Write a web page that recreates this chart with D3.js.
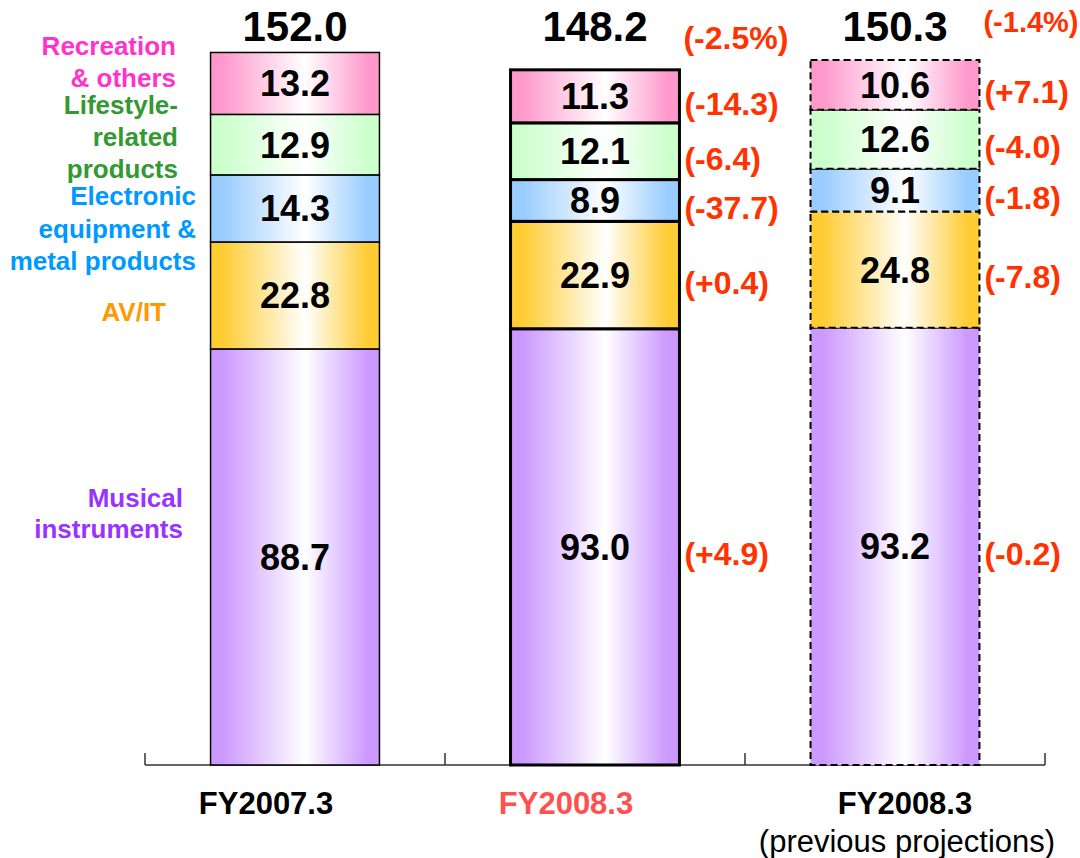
<!DOCTYPE html>
<meta charset="utf-8">
<title>Sales by segment</title>
<style>
body { margin: 0; background: #fff; }
svg { display: block; font-family: "Liberation Sans", Arial, Helvetica, sans-serif; }
.val { font-size: 36px; font-weight: bold; fill: #000; }
.tot { font-size: 42px; font-weight: bold; fill: #000; }
.chg { font-size: 32px; font-weight: bold; fill: #ff3300; }
.leg { font-size: 26px; font-weight: bold; }
.cat { font-size: 31px; font-weight: bold; }
.sub { font-size: 31px; }
</style>
<body>
<script src="https://cdn.jsdelivr.net/npm/d3@7"></script>
<script>
'use strict';

// ---- data ----
const categories = ["FY2007.3", "FY2008.3", "FY2008.3"];
const subLabels = ["", "", "(previous projections)"];
const segments = ["Musical instruments", "AV/IT", "Electronic equipment & metal products",
                  "Lifestyle-related products", "Recreation & others"];
const musical   = [88.7, 93.0, 93.2];
const avit      = [22.8, 22.9, 24.8];
const electronic= [14.3, 8.9, 9.1];
const lifestyle = [12.9, 12.1, 12.6];
const recreation= [13.2, 11.3, 10.6];
const totals    = [152.0, 148.2, 150.3];
// % changes shown beside bars 2 and 3 (bottom segment first)
const changeActual   = ["(+4.9)", "(+0.4)", "(-37.7)", "(-6.4)", "(-14.3)"];
const changeProjected= ["(-0.2)", "(-7.8)", "(-1.8)", "(-4.0)", "(+7.1)"];
const totalChanges   = [null, "(-2.5%)", "(-1.4%)"];

const series = [musical, avit, electronic, lifestyle, recreation];
const segColors = ["#cc99ff", "#ffcc33", "#99ccff", "#ccffcc", "#ff99cc"];
const labelColors = ["#9933ff", "#ff9900", "#0099ff", "#339933", "#ff33cc"];

const width = 1080, height = 858;
const svg = d3.select("body").append("svg").attr("width", width).attr("height", height);

const x = d3.scaleBand().domain(d3.range(3)).range([145, 1045]);
const barW = x.bandwidth() * 0.563;
const y = d3.scaleLinear().domain([0, 152]).range([765, 52]);

// gradients, one per segment colour
const defs = svg.append("defs");
segColors.forEach(function(c, i) {
  const g = defs.append("linearGradient").attr("id", "g" + i)
    .attr("x1", "0%").attr("x2", "100%").attr("y1", "0%").attr("y2", "0%");
  g.append("stop").attr("offset", "0%").attr("stop-color", c);
  g.append("stop").attr("offset", "7%").attr("stop-color", c);
  g.append("stop").attr("offset", "56%").attr("stop-color", "#ffffff");
  g.append("stop").attr("offset", "93%").attr("stop-color", c);
  g.append("stop").attr("offset", "100%").attr("stop-color", c);
});

// stack rows
const rows = d3.range(3).map(function(j) {
  const r = {};
  segments.forEach(function(s, i) { r[s] = series[i][j]; });
  return r;
});
const stacked = d3.stack().keys(segments)(rows);

const strokeW = [1.5, 3, 2];
const dash = [null, null, "7,4"];

// axis
svg.append("line").attr("x1", 145).attr("x2", 1045).attr("y1", y(0)).attr("y2", y(0))
  .attr("stroke", "#333").attr("stroke-width", 1.5);
[145, 445, 745, 1045].forEach(function(t) {
  svg.append("line").attr("x1", t).attr("x2", t).attr("y1", y(0) - 12).attr("y2", y(0))
    .attr("stroke", "#333").attr("stroke-width", 1.5);
});

stacked.forEach(function(layer, i) {
  const g = svg.append("g");
  g.selectAll("rect").data(layer).enter().append("rect")
    .attr("x", (d, j) => x(j) + (x.bandwidth() - barW) / 2)
    .attr("y", (d) => y(d[1]))
    .attr("width", barW)
    .attr("height", (d) => y(d[0]) - y(d[1]))
    .attr("fill", "url(#g" + i + ")")
    .attr("stroke", "#000")
    .attr("stroke-width", (d, j) => strokeW[j])
    .attr("stroke-dasharray", (d, j) => dash[j]);

  g.selectAll("text.val").data(layer).enter().append("text")
    .attr("class", "val")
    .attr("x", (d, j) => x(j) + x.bandwidth() / 2)
    .attr("y", (d) => (y(d[0]) + y(d[1])) / 2)
    .attr("dy", "0.36em")
    .attr("text-anchor", "middle")
    .text((d, j) => series[i][j].toFixed(1));
});

// change labels
[changeActual, changeProjected].forEach(function(arr, k) {
  const j = k + 1;
  svg.selectAll(null).data(arr).enter().append("text")
    .attr("class", "chg")
    .attr("x", x(j) + (x.bandwidth() + barW) / 2 + 5)
    .attr("y", (d, i) => (y(stacked[i][j][0]) + y(stacked[i][j][1])) / 2 + 7)
    .attr("dy", "0.36em")
    .text((d) => d);
});

// totals, on one row above the bars
const totalRow = 26;
svg.selectAll("text.tot").data(totals).enter().append("text")
  .attr("class", "tot")
  .attr("x", (d, j) => x(j) + x.bandwidth() / 2)
  .attr("y", totalRow)
  .attr("dy", "0.36em")
  .attr("text-anchor", "middle")
  .text((d) => d.toFixed(1));
totalChanges.forEach(function(t, j) {
  if (!t) return;
  svg.append("text").attr("class", "chg")
    .attr("x", x(j) + (x.bandwidth() + barW) / 2 + (j === 1 ? 4 : 4))
    .attr("y", totalRow + (j === 1 ? 11 : -4))
    .attr("dy", "0.36em")
    .style("font-size", j === 2 ? "29px" : null)
    .text(t);
});

// category labels
const catShift = [-29, -29, 10];
svg.selectAll("text.cat").data(categories).enter().append("text")
  .attr("class", "cat")
  .attr("x", (d, j) => x(j) + x.bandwidth() / 2 + catShift[j])
  .attr("y", 803).attr("dy", "0.36em")
  .attr("text-anchor", "middle")
  .attr("fill", (d, j) => j === 1 ? "#ff5050" : "#000")
  .text((d) => d);
svg.selectAll("text.sub").data(subLabels).enter().append("text")
  .attr("class", "sub")
  .attr("x", (d, j) => x(j) + x.bandwidth() / 2 + 12)
  .attr("y", 841).attr("dy", "0.36em")
  .attr("text-anchor", "middle")
  .text((d) => d);

// segment legend on the left
const legendLines = [
  {seg: 4, x: 176, lines: [["Recreation", 46], ["& others", 78]]},
  {seg: 3, x: 178, lines: [["Lifestyle-", 105], ["related", 137], ["products", 169]]},
  {seg: 2, x: 196, lines: [["Electronic", 196], ["equipment &", 229], ["metal products", 261]]},
  {seg: 1, x: 166, lines: [["AV/IT", 312]]},
  {seg: 0, x: 183, lines: [["Musical", 498], ["instruments", 529]]}
];
legendLines.forEach(function(l) {
  l.lines.forEach(function(ln) {
    svg.append("text").attr("class", "leg")
      .attr("x", l.x).attr("y", ln[1]).attr("dy", "0.36em")
      .attr("text-anchor", "end")
      .attr("fill", labelColors[l.seg])
      .text(ln[0]);
  });
});
</script>
